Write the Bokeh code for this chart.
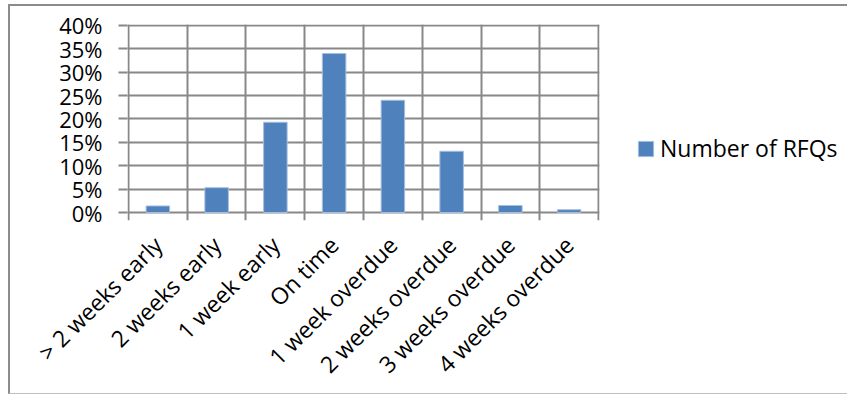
import math
from bokeh.plotting import figure
from bokeh.models import (ColumnDataSource, Range1d, FixedTicker, NumeralTickFormatter,
                          Legend, LegendItem)
from bokeh.embed import file_html
from bokeh.resources import INLINE

categories = ["> 2 weeks early", "2 weeks early", "1 week early", "On time",
              "1 week overdue", "2 weeks overdue", "3 weeks overdue", "4 weeks overdue"]
share = [0.014, 0.053, 0.193, 0.340, 0.240, 0.131, 0.015, 0.006]
series_name = "Number of RFQs"
y_ticks = [0.0, 0.05, 0.10, 0.15, 0.20, 0.25, 0.30, 0.35, 0.40]

FONT = "Open Sans"
GRID = "#888888"
BAR = "#4f81bd"

n = len(categories)
src = ColumnDataSource(dict(x=[i + 0.5 for i in range(n)], top=share, name=categories))

p = figure(frame_width=472, frame_height=196, output_backend="svg", toolbar_location=None,
           x_range=Range1d(-0.017, n + 0.017), y_range=Range1d(-0.0171, 0.4021),
           min_border_left=117, min_border_right=250, min_border_top=18, min_border_bottom=173)
p.outline_line_color = None
p.background_fill_color = "white"
p.border_fill_color = "white"

r = p.vbar(x="x", top="top", width=0.4, bottom=0, source=src,
           fill_color=BAR, line_color="#a3bedf", line_width=1)

# grids
p.ygrid.ticker = FixedTicker(ticks=y_ticks)
p.ygrid.grid_line_color = GRID
p.ygrid.grid_line_width = 2
p.xgrid.ticker = FixedTicker(ticks=list(range(n + 1)))
p.xgrid.grid_line_color = GRID
p.xgrid.grid_line_width = 2

# y axis
ya = p.yaxis[0]
ya.ticker = FixedTicker(ticks=y_ticks)
ya.formatter = NumeralTickFormatter(format="0%")
ya.axis_line_color = None
ya.major_tick_line_color = GRID
ya.major_tick_line_width = 2
ya.major_tick_out = 9
ya.major_tick_in = 0
ya.minor_tick_line_color = None
ya.major_label_text_font = FONT
ya.major_label_text_font_size = "22px"
ya.major_label_text_color = "black"
ya.major_label_standoff = 16

# x axis
xa = p.xaxis[0]
xa.ticker = FixedTicker(ticks=[i + 0.5 for i in range(n)])
xa.major_label_overrides = {i + 0.5: c for i, c in enumerate(categories)}
xa.axis_line_color = None
xa.major_tick_line_color = None
xa.minor_tick_line_color = None
xa.major_label_orientation = math.pi / 4
xa.major_label_text_font = FONT
xa.major_label_text_font_size = "23px"
xa.major_label_text_color = "black"
xa.major_label_standoff = 14

legend = Legend(items=[LegendItem(label=series_name, renderers=[r])],
                location=(37, 56), border_line_color=None, background_fill_alpha=0,
                glyph_width=19, glyph_height=19, label_standoff=5, padding=0, margin=0,
                label_text_font=FONT, label_text_font_size="23px", label_text_color="black")
p.add_layout(legend, "right")

p.styles = {"margin-left": "8px", "margin-top": "4px",
            "border-left": "2px solid #8c8c8c", "border-top": "2px solid #8c8c8c",
            "border-bottom": "1px solid #c0c0c0"}

open("out.html", "w").write(file_html(p, INLINE))
